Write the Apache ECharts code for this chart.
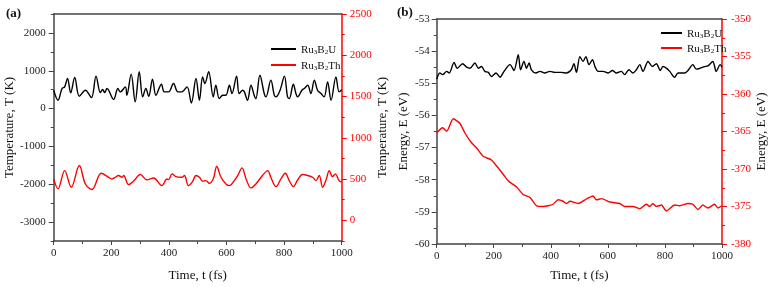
<!DOCTYPE html>
<html><head><meta charset="utf-8">
<script src="https://cdn.jsdelivr.net/npm/echarts@6/dist/echarts.min.js"></script>
<style>html,body{margin:0;padding:0;background:#fff}#c{width:769px;height:287px}</style>
</head><body><div id="c"></div>
<script>
// ---- data ----
const seriesNames = ['Ru3B2U', 'Ru3B2Th'];
const timeTempU = [0,15,29,38,48,59,73,89,110,131,147,162,170,177,185,208,223,231,249,254,269,283,297,309,320,330,343,355,374,384,399,416,431,445,463,478,494,506,517,525,538,554,563,575,587,598,610,619,635,644,656,662,673,685,696,702,716,731,737,754,766,772,786,801,812,818,832,841,847,862,870,882,893,905,916,928,939,951,963,980,991,1000];
const tempU = [485,220,530,574,795,415,821,326,485,291,857,423,503,423,530,238,530,441,574,353,910,176,972,309,530,326,777,353,645,441,441,662,441,441,574,149,795,220,839,662,972,309,618,264,353,353,618,397,857,397,485,441,220,618,353,264,883,397,309,751,353,309,485,857,309,264,645,397,309,485,530,618,397,751,485,397,309,706,220,839,441,500];
const timeTempTh = [0,15,38,61,89,110,133,165,191,202,214,225,237,243,260,277,301,324,347,376,393,399,411,424,445,454,468,482,494,506,517,529,540,554,566,581,598,610,627,639,654,668,685,702,725,743,754,772,789,804,818,832,847,864,882,899,911,922,934,945,957,968,978,991,1000];
const tempTh = [502,381,603,401,664,441,373,571,522,502,522,543,522,543,433,474,555,490,514,421,502,494,563,530,522,543,421,470,543,522,474,482,450,502,652,522,441,421,482,543,636,502,393,441,543,603,522,409,502,571,482,409,490,555,543,522,482,543,401,482,603,530,563,482,462];
const timeEnU = [0,11,21,35,44,61,72,91,105,117,134,146,157,169,181,192,208,222,236,257,271,286,294,306,315,324,332,348,362,379,397,414,437,455,472,481,490,502,513,523,534,546,555,566,583,601,616,630,647,659,674,688,700,712,723,741,756,770,784,793,805,817,834,846,869,881,898,910,924,939,951,968,980,994,1000];
const energyU = [-54.87,-54.68,-54.73,-54.63,-54.68,-54.35,-54.53,-54.39,-54.50,-54.53,-54.37,-54.53,-54.48,-54.63,-54.66,-54.79,-54.68,-54.81,-54.63,-54.42,-54.60,-54.11,-54.58,-54.32,-54.53,-54.37,-54.58,-54.68,-54.63,-54.68,-54.63,-54.66,-54.66,-54.68,-54.58,-54.39,-54.66,-54.17,-54.32,-54.17,-54.42,-54.27,-54.48,-54.63,-54.63,-54.68,-54.60,-54.68,-54.63,-54.73,-54.58,-54.68,-54.58,-54.42,-54.63,-54.32,-54.48,-54.39,-54.60,-54.48,-54.53,-54.63,-54.81,-54.68,-54.68,-54.60,-54.42,-54.56,-54.53,-54.48,-54.46,-54.32,-54.63,-54.42,-54.50];
const timeEnTh = [0,21,35,58,81,99,122,140,163,192,210,233,251,280,303,327,350,373,391,408,426,443,455,467,496,525,548,560,578,607,642,659,688,712,735,747,758,770,788,805,834,852,881,898,916,933,951,974,986,1000];
const energyTh = [-365.2,-364.5,-364.96,-363.3,-363.9,-365.2,-366.5,-367.2,-368.3,-368.8,-369.6,-370.7,-371.6,-372.4,-373.4,-373.8,-374.9,-375.0,-374.9,-374.7,-374.1,-374.3,-374.6,-374.3,-374.6,-374.0,-373.6,-374.1,-373.95,-374.4,-374.6,-375.0,-375.0,-375.3,-374.7,-375.0,-374.6,-375.0,-374.8,-375.6,-374.8,-374.9,-374.6,-374.7,-375.4,-374.8,-375.2,-374.7,-375.2,-374.9];
const xTicks = [0,200,400,600,800,1000];
const tempLeftTicks = [-3000,-2000,-1000,0,1000,2000];
const tempRightTicks = [0,500,1000,1500,2000,2500];

// ---- chart ----
const F = 'Liberation Serif';
const AX = '#444';
const RED = '#ff0000';
const plain = v => String(v);
const zip = (a, b) => a.map((t, i) => [t, b[i]]);
const fmtName = n => n.split(/(\d)/).filter(p => p !== '').map(p => /\d/.test(p) ? '{s|' + p + '}' : '{n|' + p + '}').join('');
const rich = { n: { fontFamily: F, fontSize: 11, color: '#111', lineHeight: 14, verticalAlign: 'bottom' },
               s: { fontFamily: F, fontSize: 7, color: '#111', lineHeight: 14, verticalAlign: 'bottom', padding: [6, 0, 0, 0] } };

function xAx(grid, gap) {
  return { type: 'value', gridIndex: grid, min: 0, max: 1000, interval: 200,
    axisLine: { show: true, onZero: false, lineStyle: { color: AX, width: 1.5 } },
    axisTick: { show: true, length: 4, lineStyle: { color: AX } },
    minorTick: { show: true, splitNumber: 2, length: 3, lineStyle: { color: AX } },
    axisLabel: { fontFamily: F, fontSize: 11, color: '#222', margin: 7, customValues: xTicks, formatter: plain },
    splitLine: { show: false },
    name: 'Time, t (fs)', nameLocation: 'middle', nameGap: gap,
    nameTextStyle: { fontFamily: F, fontSize: 13, color: '#111' } };
}
function topAx(grid) {
  return { type: 'value', gridIndex: grid, position: 'top', min: 0, max: 1000,
    axisLine: { show: true, onZero: false, lineStyle: { color: AX, width: 1.5 } },
    axisTick: { show: false }, axisLabel: { show: false }, splitLine: { show: false } };
}
function minorAx(grid, pos, min, max, iv, color) {
  return { type: 'value', gridIndex: grid, position: pos, min, max, interval: iv,
    axisLine: { show: false, onZero: false }, axisTick: { show: true, length: 3, lineStyle: { color } },
    axisLabel: { show: false }, splitLine: { show: false } };
}

const option = {
  animation: false,
  backgroundColor: '#fff',
  title: [
    { text: '(a)', left: 1, top: 2, textStyle: { fontFamily: F, fontSize: 13, fontWeight: 'bold', color: '#111' } },
    { text: '(b)', left: 392, top: 1, textStyle: { fontFamily: F, fontSize: 13, fontWeight: 'bold', color: '#111' } }
  ],
  grid: [
    { left: 53.7, right: 427.3, top: 14, bottom: 46 },
    { left: 436.7, right: 46.7, top: 19, bottom: 42 }
  ],
  legend: [
    { data: seriesNames, orient: 'vertical', left: 266, top: 38, itemWidth: 25, itemHeight: 2, itemGap: 3, icon: 'rect',
      formatter: fmtName, textStyle: { rich } },
    { data: seriesNames, orient: 'vertical', left: 656, top: 22, itemWidth: 21, itemHeight: 2, itemGap: 2, icon: 'rect',
      formatter: fmtName, textStyle: { rich } }
  ],
  xAxis: [ xAx(0, 28), xAx(1, 25), topAx(0), topAx(1) ],
  yAxis: [
    { type: 'value', gridIndex: 0, position: 'left', min: -3500, max: 2500, interval: 500,
      axisLine: { show: true, onZero: false, lineStyle: { color: AX, width: 1.5 } },
      axisTick: { show: true, length: 5, customValues: tempLeftTicks, lineStyle: { color: AX } },
      axisLabel: { fontFamily: F, fontSize: 11, color: '#222', margin: 8, customValues: tempLeftTicks, formatter: plain },
      splitLine: { show: false },
      name: 'Temperature, T (K)', nameLocation: 'middle', nameGap: 35,
      nameTextStyle: { fontFamily: F, fontSize: 13, color: '#111' } },
    { type: 'value', gridIndex: 0, position: 'right', min: -250, max: 2500, interval: 250,
      axisLine: { show: true, onZero: false, lineStyle: { color: RED, width: 1.5 } },
      axisTick: { show: true, length: 5, customValues: tempRightTicks, lineStyle: { color: RED } },
      axisLabel: { fontFamily: F, fontSize: 11, color: RED, margin: 8, customValues: tempRightTicks, formatter: plain },
      splitLine: { show: false },
      name: 'Temperature, T (K)', nameLocation: 'middle', nameGap: 34,
      nameTextStyle: { fontFamily: F, fontSize: 13, color: '#111' } },
    minorAx(0, 'left', -3500, 2500, 500, AX),
    minorAx(0, 'right', -250, 2500, 250, RED),
    { type: 'value', gridIndex: 1, position: 'left', min: -60, max: -53, interval: 1,
      axisLine: { show: true, onZero: false, lineStyle: { color: AX, width: 1.5 } },
      axisTick: { show: true, length: 5, lineStyle: { color: AX } },
      minorTick: { show: true, splitNumber: 2, length: 3, lineStyle: { color: AX } },
      axisLabel: { fontFamily: F, fontSize: 11, color: '#222', margin: 7, formatter: plain },
      splitLine: { show: false },
      name: 'Energy, E (eV)', nameLocation: 'middle', nameGap: 27,
      nameTextStyle: { fontFamily: F, fontSize: 13, color: '#111' } },
    { type: 'value', gridIndex: 1, position: 'right', min: -380, max: -350, interval: 5,
      axisLine: { show: true, onZero: false, lineStyle: { color: RED, width: 1.5 } },
      axisTick: { show: true, length: 5, lineStyle: { color: RED } },
      minorTick: { show: true, splitNumber: 2, length: 3, lineStyle: { color: RED } },
      axisLabel: { fontFamily: F, fontSize: 11, color: RED, margin: 9, formatter: plain },
      splitLine: { show: false },
      name: 'Energy, E (eV)', nameLocation: 'middle', nameGap: 33,
      nameTextStyle: { fontFamily: F, fontSize: 13, color: '#111' } }
  ],
  series: [
    { name: seriesNames[0], type: 'line', xAxisIndex: 0, yAxisIndex: 0, data: zip(timeTempU, tempU),
      showSymbol: false, symbol: 'none', smooth: 0.35, lineStyle: { color: '#000', width: 1.4 }, itemStyle: { color: '#000' } },
    { name: seriesNames[1], type: 'line', xAxisIndex: 0, yAxisIndex: 1, data: zip(timeTempTh, tempTh),
      showSymbol: false, symbol: 'none', smooth: 0.35, lineStyle: { color: RED, width: 1.4 }, itemStyle: { color: RED } },
    { name: seriesNames[0], type: 'line', xAxisIndex: 1, yAxisIndex: 4, data: zip(timeEnU, energyU),
      showSymbol: false, symbol: 'none', smooth: 0.3, lineStyle: { color: '#000', width: 1.4 }, itemStyle: { color: '#000' } },
    { name: seriesNames[1], type: 'line', xAxisIndex: 1, yAxisIndex: 5, data: zip(timeEnTh, energyTh),
      showSymbol: false, symbol: 'none', smooth: 0.2, lineStyle: { color: RED, width: 1.4 }, itemStyle: { color: RED } }
  ]
};
const chart = echarts.init(document.getElementById('c'), null, { renderer: 'canvas' });
chart.setOption(option);
</script>
</body></html>
